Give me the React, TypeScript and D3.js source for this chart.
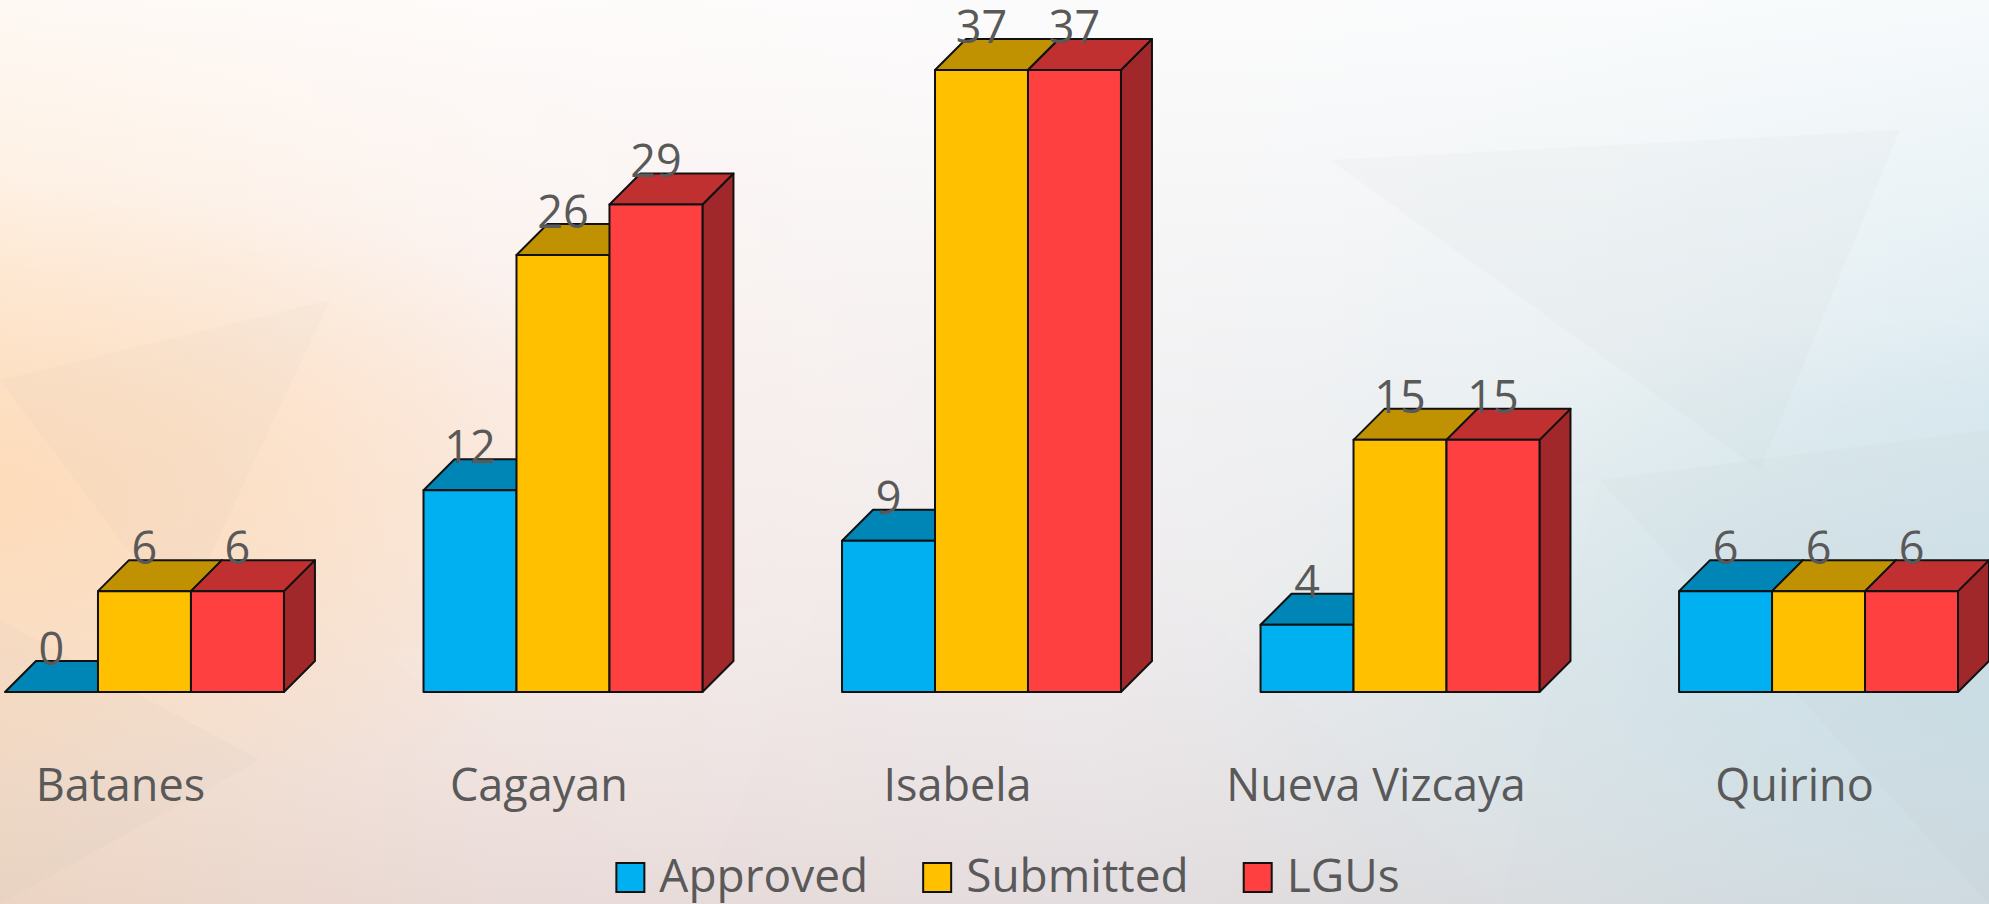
import React, { useEffect, useRef } from "react";
import * as d3 from "d3";

// chart data
const provinces = ["Batanes", "Cagayan", "Isabela", "Nueva Vizcaya", "Quirino"];
const seriesNames = ["Approved", "Submitted", "LGUs"];
const approved = [0, 12, 9, 4, 6];
const submitted = [6, 26, 37, 15, 6];
const lgus = [6, 29, 37, 15, 6];

const W = 1989;
const H = 904;
const FONT = "'Open Sans', sans-serif";
const TEXT = "#595959";

// front / top / side shades per series
const colors = [
  { front: "#00B0F0", top: "#0086B6", side: "#00739C" },
  { front: "#FFC000", top: "#C09100", side: "#A07A00" },
  { front: "#FF4040", top: "#C03031", side: "#A1282A" },
];

export default function App() {
  const ref = useRef<SVGSVGElement>(null);

  useEffect(() => {
    const svg = d3.select(ref.current);
    svg.selectAll("*").remove();

    const values = [approved, submitted, lgus];
    const depth = 31;
    const base = 692;

    // background
    const defs = svg.append("defs");
    const g1 = defs.append("linearGradient").attr("id", "bgH").attr("x1", 0).attr("x2", 1).attr("y1", 0).attr("y2", 0);
    [["0%", "#fde2c8"], ["25%", "#f9ebe6"], ["55%", "#f1eef0"], ["80%", "#e4edf0"], ["100%", "#d6e7ee"]]
      .forEach(([o, c]) => g1.append("stop").attr("offset", o).attr("stop-color", c));
    const g2 = defs.append("linearGradient").attr("id", "bgV").attr("x1", 0).attr("x2", 0).attr("y1", 0).attr("y2", 1);
    g2.append("stop").attr("offset", "0%").attr("stop-color", "#ffffff").attr("stop-opacity", 0.8);
    g2.append("stop").attr("offset", "45%").attr("stop-color", "#ffffff").attr("stop-opacity", 0.15);
    g2.append("stop").attr("offset", "100%").attr("stop-color", "#c4b4b6").attr("stop-opacity", 0.3);
    const g3 = defs.append("radialGradient").attr("id", "glow").attr("cx", 0).attr("cy", 0.55).attr("r", 0.35);
    g3.append("stop").attr("offset", "0%").attr("stop-color", "#fdd9b5").attr("stop-opacity", 0.8);
    g3.append("stop").attr("offset", "100%").attr("stop-color", "#fdd9b5").attr("stop-opacity", 0);
    const g4 = defs.append("radialGradient").attr("id", "glowR").attr("cx", 1).attr("cy", 0.75).attr("r", 0.4);
    g4.append("stop").attr("offset", "0%").attr("stop-color", "#c8dfe6").attr("stop-opacity", 0.8);
    g4.append("stop").attr("offset", "100%").attr("stop-color", "#c8dfe6").attr("stop-opacity", 0);
    svg.append("rect").attr("width", W).attr("height", H).attr("fill", "url(#bgH)");
    svg.append("rect").attr("width", W).attr("height", H).attr("fill", "url(#bgV)");
    svg.append("rect").attr("width", W).attr("height", H).attr("fill", "url(#glow)");
    svg.append("rect").attr("width", W).attr("height", H).attr("fill", "url(#glowR)");

    // faint low-poly facets
    const facets: [number, number][][] = [
      [[0, 380], [330, 300], [180, 620]],
      [[780, 330], [1160, 380], [960, 700]],
      [[1330, 160], [1900, 130], [1760, 470]],
      [[1150, 560], [1600, 480], [1500, 904]],
      [[1600, 480], [1989, 430], [1989, 904]],
      [[380, 650], [820, 600], [700, 904]],
      [[0, 620], [260, 760], [0, 904]],
    ];
    svg.append("g").selectAll("path").data(facets).join("path")
      .attr("d", (d) => "M" + d.map((p) => p.join(",")).join("L") + "Z")
      .attr("fill", (_, i) => (i % 2 ? "#ffffff" : "#b9a8ab"))
      .attr("fill-opacity", 0.05);

    const x0 = d3.scaleBand<string>().domain(provinces).range([5, 1958]).paddingInner(0.3335).paddingOuter(0);
    const x1 = d3.scaleBand<string>().domain(seriesNames).range([0, x0.bandwidth()]);
    const y = d3.scaleLinear().domain([0, 37]).range([base, 70]);
    const bw = x1.bandwidth();

    const bars: { p: number; s: number; v: number }[] = [];
    provinces.forEach((_, p) => seriesNames.forEach((_, s) => bars.push({ p, s, v: values[s][p] })));

    const barG = svg.append("g").attr("stroke", "#111").attr("stroke-width", 2).attr("stroke-linejoin", "round");
    bars.forEach(({ p, s, v }) => {
      const xl = (x0(provinces[p]) as number) + (x1(seriesNames[s]) as number);
      const xr = xl + bw;
      const yt = y(v);
      const g = barG.append("g");
      // side
      g.append("path")
        .attr("d", `M${xr},${base}L${xr + depth},${base - depth}L${xr + depth},${yt - depth}L${xr},${yt}Z`)
        .attr("fill", colors[s].side);
      // top
      g.append("path")
        .attr("d", `M${xl},${yt}L${xl + depth},${yt - depth}L${xr + depth},${yt - depth}L${xr},${yt}Z`)
        .attr("fill", colors[s].top);
      // front
      if (v > 0) {
        g.append("rect").attr("x", xl).attr("y", yt).attr("width", bw).attr("height", base - yt).attr("fill", colors[s].front);
      }
    });

    // value labels
    svg.append("g").selectAll("text").data(bars).join("text")
      .attr("x", (d) => (x0(provinces[d.p]) as number) + (x1(seriesNames[d.s]) as number) + bw / 2)
      .attr("y", (d) => y(d.v) - 27)
      .attr("text-anchor", "middle")
      .attr("font-family", FONT).attr("font-size", 45).attr("fill", TEXT)
      .text((d) => d.v);

    // category labels
    svg.append("g").selectAll("text").data(provinces).join("text")
      .attr("x", (d) => (x0(d) as number) + x0.bandwidth() / 2 - 24)
      .attr("y", 801)
      .attr("text-anchor", "middle")
      .attr("font-family", FONT).attr("font-size", 45).attr("fill", TEXT)
      .text((d) => d);

    // legend
    const leg = svg.append("g");
    const items = seriesNames.map((name, i) => {
      const g = leg.append("g");
      g.append("rect").attr("x", 0).attr("y", -29).attr("width", 28).attr("height", 29)
        .attr("fill", colors[i].front).attr("stroke", "#111").attr("stroke-width", 2);
      const t = g.append("text").attr("x", 43).attr("y", 0)
        .attr("font-family", FONT).attr("font-size", 46).attr("fill", TEXT).text(name);
      const w = 43 + (t.node() as SVGTextElement).getComputedTextLength();
      return { g, w };
    });
    const gap = 55;
    const total = d3.sum(items, (d) => d.w) + gap * (items.length - 1);
    let cx = 1008 - total / 2;
    items.forEach(({ g, w }) => {
      g.attr("transform", `translate(${cx},892)`);
      cx += w + gap;
    });
  }, []);

  return (
    <div style={{ position: "fixed", left: 0, top: 0, width: W, height: H, overflow: "hidden" }}>
      <svg ref={ref} width={W} height={H} style={{ display: "block" }} />
    </div>
  );
}
